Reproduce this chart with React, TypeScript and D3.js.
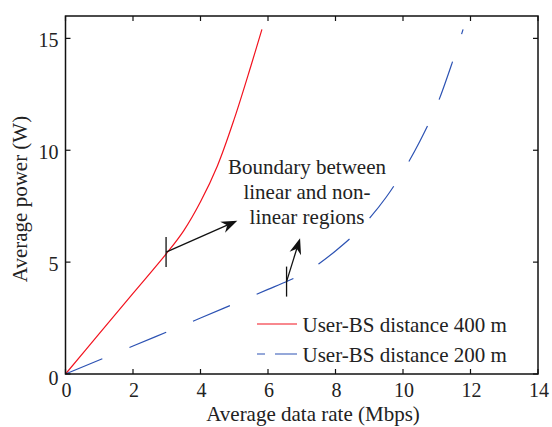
import React from 'react';
import * as d3 from 'd3';

const xTicks = [0, 2, 4, 6, 8, 10, 12, 14];
const yTicks = [0, 5, 10, 15];

// User-BS distance 400 m
const redRate = [0, 1, 2, 3, 3.5, 4, 4.5, 5, 5.5, 5.82];
const redPower = [0, 1.8, 3.6, 5.4, 6.4, 7.7, 9.3, 11.4, 13.8, 15.4];

// User-BS distance 200 m
const blueRate = [0, 2, 4, 6, 6.6, 7, 7.5, 8, 8.5, 9, 9.5, 10, 10.5, 11, 11.5, 11.78];
const bluePower = [0, 1.25, 2.5, 3.78, 4.17, 4.45, 4.92, 5.5, 6.15, 6.95, 7.9, 9.05, 10.4, 12.0, 14.1, 15.4];

const seriesLabels = ['User-BS distance 400 m', 'User-BS distance 200 m'];
const noteLines = ['Boundary between', 'linear and non-', 'linear regions'];

// boundary points [rate, power] and where the arrows point to
const redBoundary = [2.98, 5.45];
const blueBoundary = [6.55, 4.13];
const redArrowTip = [5.09, 6.85];
const blueArrowTip = [6.95, 6.07];

const RED = '#f2121e';
const BLUE = '#2c52b3';
const font = '"Liberation Serif", "Times New Roman", serif';

export default function App() {
    const width = 552;
    const height = 427;
    const left = 65.5, right = 538, top = 16, bottom = 374;

    const x = d3.scaleLinear().domain([0, 14]).range([left, right]);
    const y = d3.scaleLinear().domain([0, 16]).range([bottom, top]);

    const line = d3.line<[number, number]>()
        .x((d) => x(d[0]))
        .y((d) => y(d[1]))
        .curve(d3.curveCatmullRom.alpha(0.5));

    const redPts = redRate.map((r, i) => [r, redPower[i]] as [number, number]);
    const bluePts = blueRate.map((r, i) => [r, bluePower[i]] as [number, number]);

    const arrow = (from: number[], to: number[]) => {
        const x1 = x(from[0]), y1 = y(from[1]);
        const x2 = x(to[0]), y2 = y(to[1]);
        const a = Math.atan2(y2 - y1, x2 - x1);
        const L = 16, W = 6, notch = 11;
        const p = (dl: number, dw: number) =>
            [x2 - dl * Math.cos(a) - dw * Math.sin(a), y2 - dl * Math.sin(a) + dw * Math.cos(a)];
        const h1 = p(L, W), h2 = p(notch, 0), h3 = p(L, -W);
        return (
            <g>
                <line x1={x1} y1={y1} x2={h2[0]} y2={h2[1]} stroke="#111" strokeWidth={1.3} />
                <path d={`M${x2},${y2}L${h1[0]},${h1[1]}L${h2[0]},${h2[1]}L${h3[0]},${h3[1]}Z`} fill="#111" />
            </g>
        );
    };

    const marker = (pt: number[]) => (
        <line x1={x(pt[0])} x2={x(pt[0])} y1={y(pt[1]) - 15} y2={y(pt[1]) + 15} stroke="#111" strokeWidth={1.3} />
    );

    return (
        <div style={{ position: 'absolute', left: 0, top: 0 }}>
            <svg width={width} height={height} style={{ display: 'block', background: '#fff' }} fontFamily={font}>
                <g>
                    <path d={line(redPts) || ''} fill="none" stroke={RED} strokeWidth={1.2} />
                    <path d={line(bluePts) || ''} fill="none" stroke={BLUE} strokeWidth={1.2} strokeDasharray="40,29" />
                </g>

                {marker(redBoundary)}
                {marker(blueBoundary)}
                {arrow(redBoundary, redArrowTip)}
                {arrow(blueBoundary, blueArrowTip)}

                <g fontSize={21} fill="#222" textAnchor="middle">
                    {noteLines.map((t, i) => (
                        <text key={t} x={307} y={173.5 + i * 25}>{t}</text>
                    ))}
                </g>

                {/* axes box */}
                <rect x={left} y={top} width={right - left} height={bottom - top} fill="none" stroke="#111" strokeWidth={1.5} />
                {xTicks.map((t) => (
                    <g key={'x' + t}>
                        <line x1={x(t)} x2={x(t)} y1={bottom} y2={bottom - 5} stroke="#111" strokeWidth={1.2} />
                        <line x1={x(t)} x2={x(t)} y1={top} y2={top + 5} stroke="#111" strokeWidth={1.2} />
                        <text x={x(t) + 1} y={396.5} fontSize={20} textAnchor="middle" fill="#222">{t}</text>
                    </g>
                ))}
                {yTicks.map((t) => (
                    <g key={'y' + t}>
                        <line x1={left} x2={left + 5} y1={y(t)} y2={y(t)} stroke="#111" strokeWidth={1.2} />
                        <line x1={right} x2={right - 5} y1={y(t)} y2={y(t)} stroke="#111" strokeWidth={1.2} />
                        <text x={58.5} y={y(t) + (t === 0 ? 4 : 1.5)} dy="0.35em" fontSize={20} textAnchor="end" fill="#222">{t}</text>
                    </g>
                ))}

                <text x={313} y={421} fontSize={21} textAnchor="middle" fill="#222">Average data rate (Mbps)</text>
                <text transform={`translate(27,199) rotate(-90)`} fontSize={21} textAnchor="middle" fill="#222">Average power (W)</text>

                {/* legend */}
                <g fontSize={21} fill="#222">
                    <line x1={257} x2={297} y1={324} y2={324} stroke={RED} strokeWidth={1.2} />
                    <text x={302.5} y={331.5}>{seriesLabels[0]}</text>
                    <line x1={257} x2={297} y1={354} y2={354} stroke={BLUE} strokeWidth={1.2} strokeDasharray="8,10,22" />
                    <text x={302.5} y={361.5}>{seriesLabels[1]}</text>
                </g>
            </svg>
        </div>
    );
}
